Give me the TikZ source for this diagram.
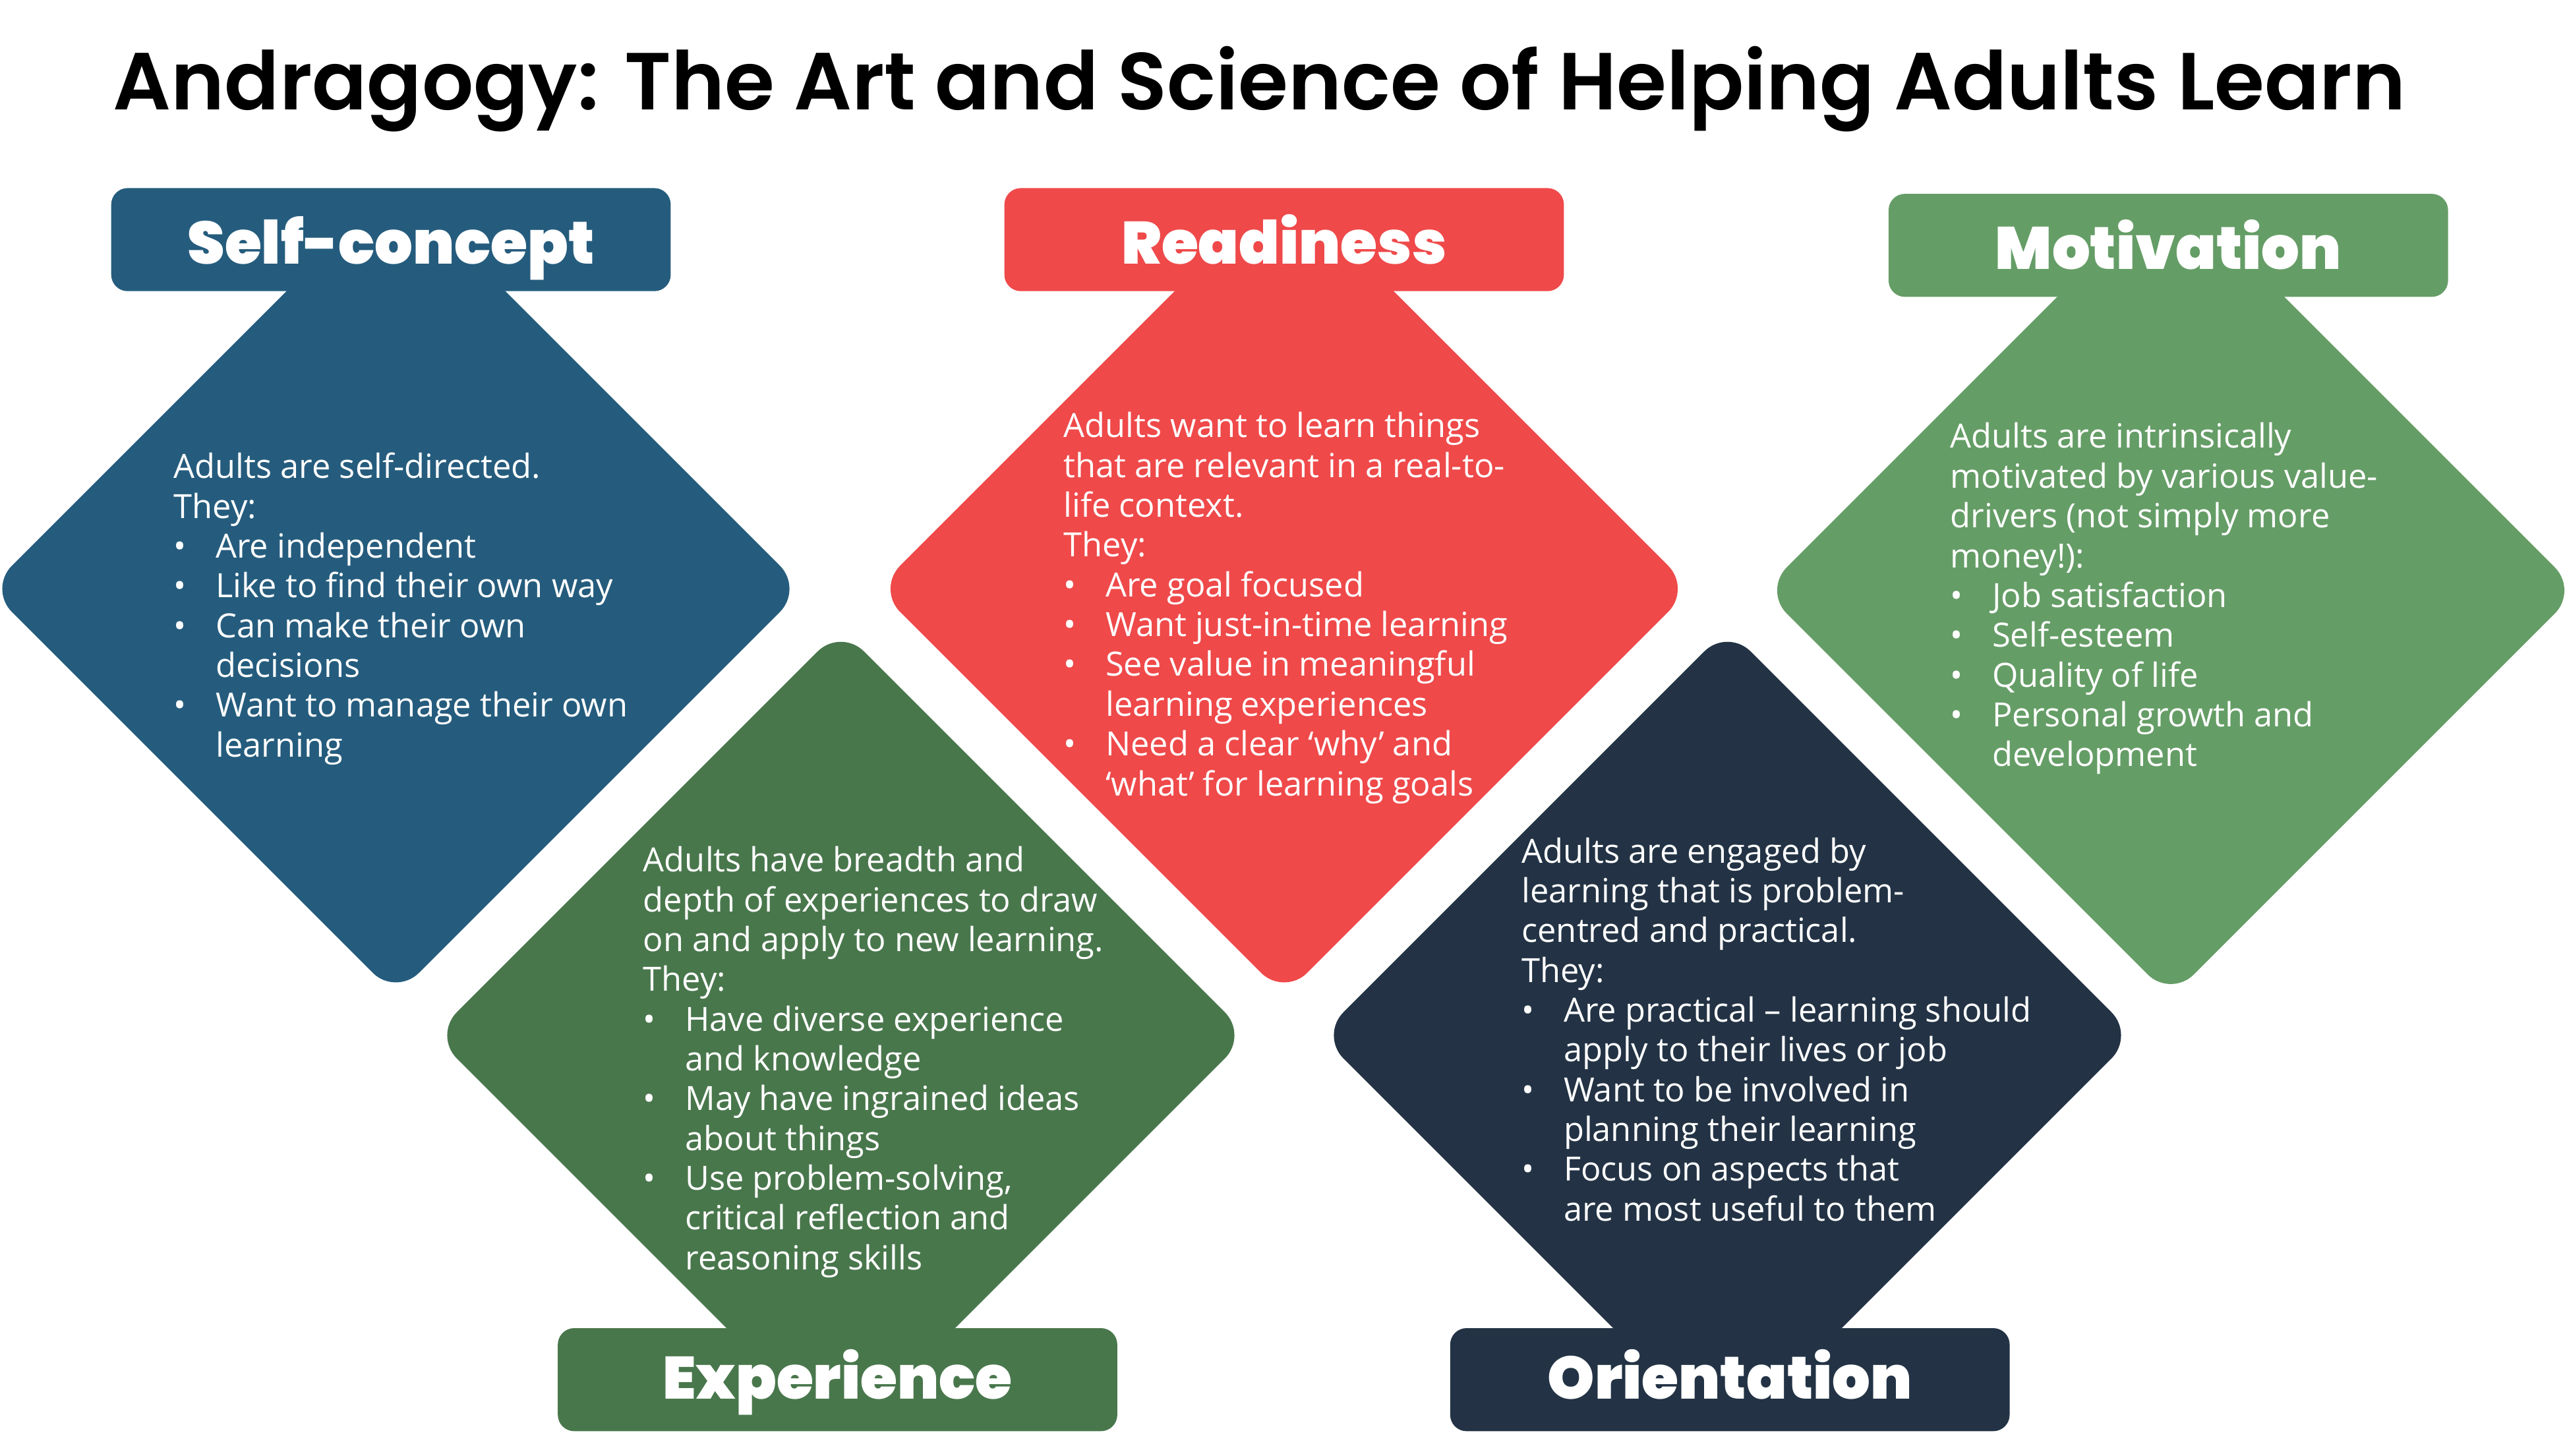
\documentclass[tikz,border=0pt]{standalone}
\usepackage{fontspec}
\setmainfont{Open Sans}
\newfontfamily\titlefont{Poppins SemiBold}
\newfontfamily\headfont{Poppins Black}
\usetikzlibrary{shapes.geometric}
\usetikzlibrary{positioning}

\definecolor{selfblue}{HTML}{255C7D}
\definecolor{readyred}{HTML}{EF494A}
\definecolor{motivgreen}{HTML}{659D66}
\definecolor{expgreen}{HTML}{49774C}
\definecolor{orientnavy}{HTML}{233345}

\newcommand{\bulletline}[1]{\makebox[6.4mm][l]{\textbullet}#1}
\newcommand{\contline}[1]{\hspace*{6.4mm}#1}

\begin{document}
\begin{tikzpicture}[
                x=0.25mm, y=-0.25mm,
                diabox/.style={diamond, aspect=1, inner sep=0pt, minimum width=124.5mm, minimum height=124.5mm, rounded corners=5mm},
                headbox/.style={rectangle, rounded corners=2.5mm, minimum width=85.5mm, minimum height=15.75mm, inner sep=0pt,
                    text=white, font=\headfont\fontsize{26}{30}\selectfont, text height=21pt, text depth=0pt},
                bodytext/.style={anchor=base west, inner sep=0pt, text=white, font=\fontsize{14.5}{17.3}\selectfont}
            ]
            \useasboundingbox (0,0) rectangle (1568,890);

            % Title
            \node[anchor=base, inner sep=0pt, font=\titlefont\fontsize{35.2}{40}\selectfont] (title) at (770,67)
                {Andragogy: The Art and Science of Helping Adults Learn};

            % Diamonds
            \node[diabox, fill=selfblue] (selfdia) at (242,360) {};
            \node[diabox, fill=readyred] (readydia) at (785,360) {};
            \node[diabox, fill=motivgreen] (motivdia) at (1327,361) {};
            \node[diabox, fill=expgreen] (expdia) at (514,633) {};
            \node[diabox, fill=orientnavy] (orientdia) at (1056,633) {};

            % Headers
            \node[headbox, fill=selfblue] (selfhead) at (239,146.5) {Self-concept};
            \node[headbox, fill=readyred] (readyhead) at (785,146.5) {Readiness};
            \node[headbox, fill=motivgreen] (motivhead) at (1325.5,150) {Motivation};
            \node[headbox, fill=expgreen, text height=17pt] (exphead) at (512,843.5) {Experience};
            \node[headbox, fill=orientnavy, text height=17pt] (orienthead) at (1057.5,843.5) {Orientation};

            % Texts
            \node[bodytext] (selftext) at (106,292.5) {\parbox[t]{120mm}{%
                Adults are self-directed.\\
                They:\\
                \bulletline{Are independent}\\
                \bulletline{Like to find their own way}\\
                \bulletline{Can make their own}\\
                \contline{decisions}\\
                \bulletline{Want to manage their own}\\
                \contline{learning}}};
            \node[bodytext] (readytext) at (650,267.5) {\parbox[t]{120mm}{%
                Adults want to learn things\\
                that are relevant in a real-to-\\
                life context.\\
                They:\\
                \bulletline{Are goal focused}\\
                \bulletline{Want just-in-time learning}\\
                \bulletline{See value in meaningful}\\
                \contline{learning experiences}\\
                \bulletline{Need a clear ‘why’ and}\\
                \contline{‘what’ for learning goals}}};
            \node[bodytext] (motivtext) at (1192,274) {\parbox[t]{120mm}{%
                Adults are intrinsically\\
                motivated by various value-\\
                drivers (not simply more\\
                money!):\\
                \bulletline{Job satisfaction}\\
                \bulletline{Self-esteem}\\
                \bulletline{Quality of life}\\
                \bulletline{Personal growth and}\\
                \contline{development}}};
            \node[bodytext] (exptext) at (393,533) {\parbox[t]{120mm}{%
                Adults have breadth and\\
                depth of experiences to draw\\
                on and apply to new learning.\\
                They:\\
                \bulletline{Have diverse experience}\\
                \contline{and knowledge}\\
                \bulletline{May have ingrained ideas}\\
                \contline{about things}\\
                \bulletline{Use problem-solving,}\\
                \contline{critical reflection and}\\
                \contline{reasoning skills}}};
            \node[bodytext] (orienttext) at (930,527.5) {\parbox[t]{120mm}{%
                Adults are engaged by\\
                learning that is problem-\\
                centred and practical.\\
                They:\\
                \bulletline{Are practical – learning should}\\
                \contline{apply to their lives or job}\\
                \bulletline{Want to be involved in}\\
                \contline{planning their learning}\\
                \bulletline{Focus on aspects that}\\
                \contline{are most useful to them}}};

        \end{tikzpicture}
\end{document}
